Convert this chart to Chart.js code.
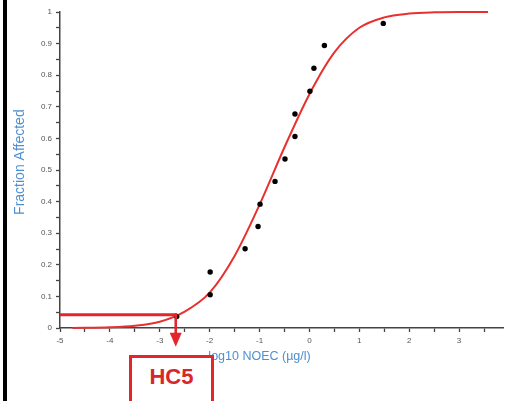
<!DOCTYPE html>
<html>
<head>
<meta charset="utf-8">
<script src="https://cdn.jsdelivr.net/npm/chart.js@4"></script>
<style>
  html, body { margin: 0; padding: 0; background: #fff; }
  #wrap { position: relative; width: 507px; height: 401px; overflow: hidden; background: #fff; }
  #bar { position: absolute; left: 3px; top: 0; width: 4px; height: 401px; background: #000; }
  #hc5 { position: absolute; left: 129px; top: 355px; width: 79px; height: 60px;
         border: 3px solid #e3262b; background: #fff; text-align: center;
         font-family: "Liberation Sans", Arial, sans-serif; font-weight: bold; font-size: 22px;
         line-height: 22px; color: #d9262b; padding-top: 8px; box-sizing: content-box; }
  canvas { position: absolute; left: 0; top: 0; }
</style>
</head>
<body>
<div id="wrap">
  <canvas id="c" width="507" height="401"></canvas>
  <div id="bar"></div>
  <div id="hc5">HC5</div>
</div>
<script>
// Observed data points (log10 NOEC, fraction affected)
const pointX = [-2.66, -1.99, -1.99, -1.29, -1.03, -0.99, -0.69, -0.49, -0.29, -0.29, 0.01, 0.09, 0.30, 1.48];
const pointY = [0.036, 0.105, 0.177, 0.251, 0.321, 0.392, 0.464, 0.535, 0.606, 0.677, 0.749, 0.822, 0.894, 0.964];

// Fitted curve
const curveX = [-4.75, -4.0, -3.5, -3.0, -2.5, -2.0, -1.5, -1.0, -0.5, 0.0, 0.5, 1.0, 1.5, 2.0, 2.5, 3.0, 3.58];
const curveY = [0.000, 0.002, 0.007, 0.020, 0.052, 0.112, 0.228, 0.390, 0.572, 0.740, 0.872, 0.950, 0.983, 0.995, 0.999, 1.000, 1.000];

// HC5 marker
const hc5X = [-2.68];
const hc5Y = [0.042];

// Axis texts
const xTitle = "log10 NOEC (µg/l)";
const yTitle = "Fraction Affected";

const RED = '#e8312f';
const BLUE = '#4f8fd0';

const annot = {
  id: 'annot',
  afterDatasetsDraw(chart) {
    const ctx = chart.ctx;
    const xs = chart.scales.x, ys = chart.scales.y;
    const hx = xs.getPixelForValue(hc5X[0]);
    const hy = ys.getPixelForValue(hc5Y[0]);
    const x0 = xs.getPixelForValue(xs.min);
    ctx.save();
    ctx.strokeStyle = '#e3262b';
    ctx.fillStyle = '#e3262b';
    ctx.lineWidth = 3.2;
    ctx.beginPath();
    ctx.moveTo(x0, hy);
    ctx.lineTo(hx + 1.5, hy);
    ctx.stroke();
    ctx.lineWidth = 2.6;
    ctx.beginPath();
    ctx.moveTo(hx, hy - 1.5);
    ctx.lineTo(hx, hy + 20);
    ctx.stroke();
    ctx.beginPath();
    ctx.moveTo(hx - 6, hy + 18);
    ctx.lineTo(hx + 6, hy + 18);
    ctx.lineTo(hx, hy + 32);
    ctx.closePath();
    ctx.fill();
    ctx.restore();
  },
  afterDraw(chart) {
    const ctx = chart.ctx;
    const xs = chart.scales.x, ys = chart.scales.y;
    ctx.save();
    ctx.fillStyle = BLUE;
    ctx.textAlign = 'center';
    ctx.textBaseline = 'middle';
    ctx.font = '12.5px "Liberation Sans", Arial, sans-serif';
    ctx.fillText(xTitle, xs.getPixelForValue(-1.0), 357);
    ctx.translate(20, ys.getPixelForValue(0.525));
    ctx.rotate(-Math.PI / 2);
    ctx.font = '14px "Liberation Sans", Arial, sans-serif';
    ctx.fillText(yTitle, 0, 0);
    ctx.restore();
  }
};

new Chart(document.getElementById('c'), {
  type: 'scatter',
  data: {
    datasets: [
      {
        type: 'line',
        data: curveX.map((x, i) => ({ x: x, y: curveY[i] })),
        borderColor: RED,
        borderWidth: 2,
        pointRadius: 0,
        fill: false,
        cubicInterpolationMode: 'monotone',
        clip: false,
        order: 2
      },
      {
        data: pointX.map((x, i) => ({ x: x, y: pointY[i] })),
        backgroundColor: '#000',
        borderColor: '#000',
        pointRadius: 2.7,
        pointBorderWidth: 0,
        clip: false,
        order: 1
      }
    ]
  },
  options: {
    responsive: false,
    animation: false,
    devicePixelRatio: 1,
    layout: { padding: { top: 12, right: 0, bottom: 0, left: 0 } },
    plugins: { legend: { display: false }, tooltip: { enabled: false } },
    scales: {
      x: {
        type: 'linear',
        min: -5,
        max: 3.88,
        afterFit(s) { s.height = 73; },
        border: { display: true, color: '#444', width: 1.5 },
        grid: { drawOnChartArea: false, drawTicks: true, tickLength: 4, color: '#444', tickWidth: 1.3 },
        ticks: {
          stepSize: 0.5,
          includeBounds: false,
          autoSkip: false,
          maxRotation: 0,
          padding: 4,
          color: '#555',
          font: { family: '"Liberation Sans", Arial, sans-serif', size: 8 },
          callback: (v) => Number.isInteger(v) ? String(v) : ''
        }
      },
      y: {
        type: 'linear',
        min: 0,
        max: 1,
        afterFit(s) { s.width = 60; },
        border: { display: true, color: '#444', width: 1.5 },
        grid: { drawOnChartArea: false, drawTicks: true, tickLength: 4, color: '#444', tickWidth: 1.3 },
        ticks: {
          stepSize: 0.05,
          autoSkip: false,
          padding: 4,
          color: '#555',
          font: { family: '"Liberation Sans", Arial, sans-serif', size: 8 },
          callback: (v) => {
            const k = Math.round(v * 100);
            if (k % 10 !== 0) return '';
            if (k === 0) return '0';
            if (k === 100) return '1';
            return (k / 100).toFixed(1);
          }
        }
      }
    }
  },
  plugins: [annot]
});
</script>
</body>
</html>
